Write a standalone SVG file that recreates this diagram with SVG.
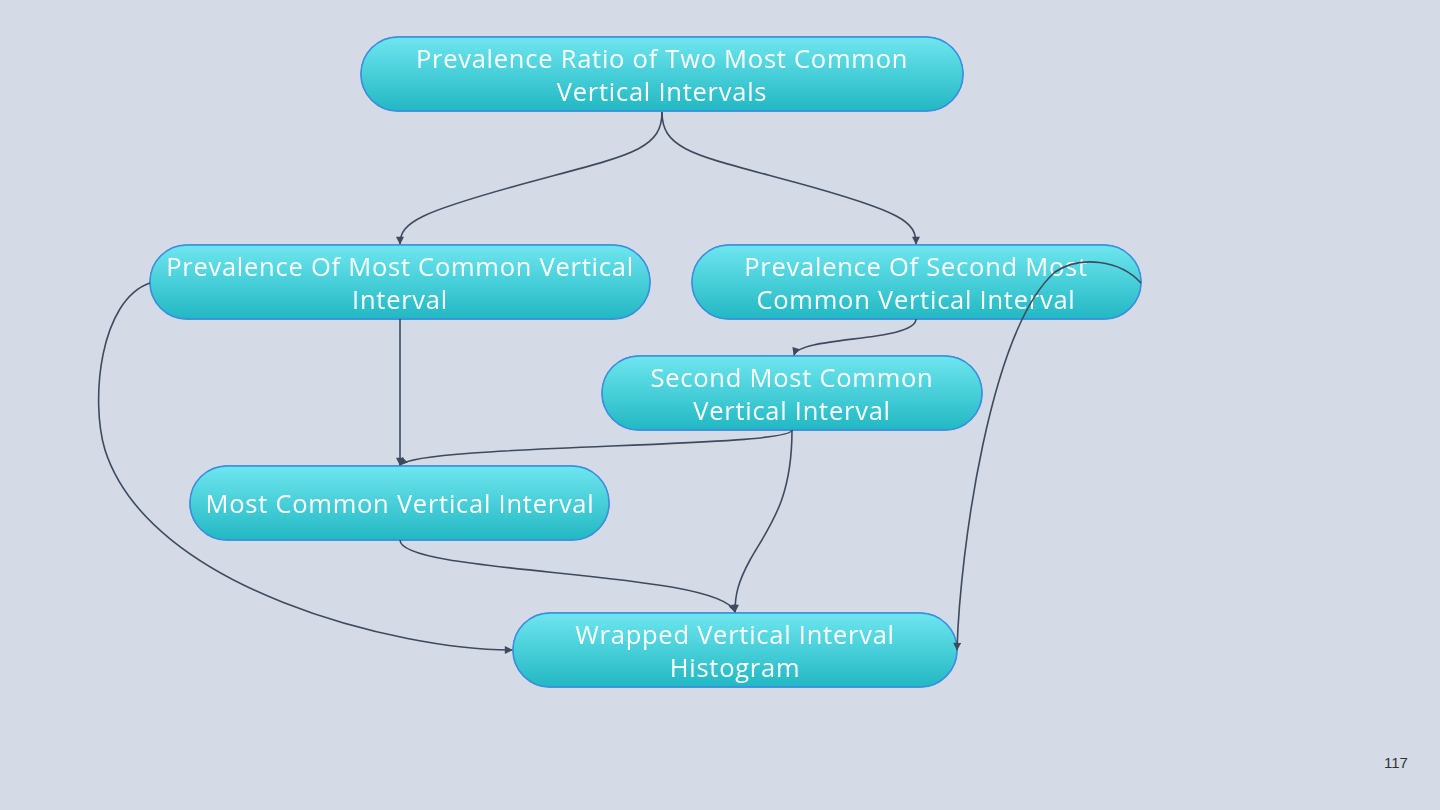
<svg xmlns="http://www.w3.org/2000/svg" width="1440" height="810" viewBox="0 0 1440 810">
<defs>
<linearGradient id="g" x1="0" y1="0" x2="0" y2="1">
<stop offset="0" stop-color="#6ee6ef"/>
<stop offset="1" stop-color="#22b8c3"/>
</linearGradient>
<filter id="sh" x="-20%" y="-40%" width="140%" height="180%">
<feGaussianBlur in="SourceAlpha" stdDeviation="7"/>
<feOffset dx="0" dy="4"/>
<feComponentTransfer><feFuncA type="linear" slope="0.35"/></feComponentTransfer>
<feFlood flood-color="#4a90e2"/>
<feComposite operator="in" in2="SourceAlpha"/>
<feMerge><feMergeNode/><feMergeNode in="SourceGraphic"/></feMerge>
</filter>
<marker id="a" viewBox="0 0 10 10" refX="9" refY="5" markerWidth="9" markerHeight="8" orient="auto" markerUnits="userSpaceOnUse">
<path d="M0,0 L10,5 L0,10 z" fill="#3d4a5f"/>
</marker>
</defs>
<style>
.n rect{fill:url(#g);stroke:#3a8fe0;stroke-width:1.5}
.n text{font-family:"Open Sans","Liberation Sans",sans-serif;font-size:25.5px;letter-spacing:0.75px;fill:#ffffff;text-anchor:middle}
.e path{fill:none;stroke:#3d4a5f;stroke-width:1.6;marker-end:url(#a)}
</style>
<rect width="1440" height="810" fill="#d4dbe6"/>
<g class="n" id="n1" filter="url(#sh)">
<rect x="361" y="37" width="602" height="74" rx="37"/>
<text x="662" y="68">Prevalence Ratio of Two Most Common</text>
<text x="662" y="101">Vertical Intervals</text>
</g>
<g class="n" id="n2" filter="url(#sh)">
<rect x="150" y="245" width="500" height="74" rx="37"/>
<text x="400" y="276">Prevalence Of Most Common Vertical</text>
<text x="400" y="309">Interval</text>
</g>
<g class="n" id="n3" filter="url(#sh)">
<rect x="692" y="245" width="449" height="74" rx="37"/>
<text x="916" y="276">Prevalence Of Second Most</text>
<text x="916" y="309">Common Vertical Interval</text>
</g>
<g class="n" id="n4" filter="url(#sh)">
<rect x="602" y="356" width="380" height="74" rx="37"/>
<text x="792" y="387">Second Most Common</text>
<text x="792" y="420">Vertical Interval</text>
</g>
<g class="n" id="n5" filter="url(#sh)">
<rect x="190" y="466" width="419" height="74" rx="37"/>
<text x="400" y="513">Most Common Vertical Interval</text>
</g>
<g class="n" id="n6" filter="url(#sh)">
<rect x="513" y="613" width="444" height="74" rx="37"/>
<text x="735" y="644">Wrapped Vertical Interval</text>
<text x="735" y="677">Histogram</text>
</g>
<g class="e" id="edges">
<path d="M662,112 C662,150 630,155 530,182 C420,212 400,222 400,244"/>
<path d="M662,112 C662,150 694,155 794,182 C904,212 916,222 916,244"/>
<path d="M400,319 L400,465"/>
<path d="M916,319 C916,342 800,336 794,355"/>
<path d="M792,430 C792,448 420,444 400,465"/>
<path d="M792,430 C792,500 770,525 750,560 C738,582 735,595 735,612"/>
<path d="M400,540 C400,575 720,570 735,612"/>
<path d="M150,283 C100,300 90,400 105,450 C150,590 400,650 512,650"/>
<path d="M1141,283 C1120,260 1080,255 1055,272 C990,330 960,550 957,650"/>
</g>
<text x="1396" y="768" font-family="Liberation Sans, sans-serif" font-size="15" fill="#333" text-anchor="middle">117</text>
</svg>
